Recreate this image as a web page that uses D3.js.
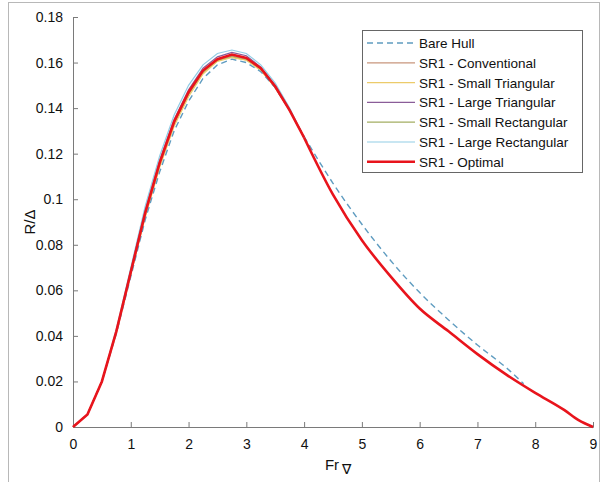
<!DOCTYPE html>
<html>
<head>
<meta charset="utf-8">
<script src="https://cdn.jsdelivr.net/npm/d3@7"></script>
<style>
  body { margin: 0; background: #fff; }
  text { font-family: "Liberation Sans", Arial, sans-serif; }
</style>
</head>
<body>
<div class="chart"></div>
<script>

// Froude numbers for the hump region (all series) and the tail
var frHump = [0, 0.25, 0.5, 0.75, 1, 1.25, 1.5, 1.75, 2, 2.25, 2.5, 2.75, 3, 3.25, 3.5, 3.75, 4];
var frTailBare = [4, 4.5, 5, 5.5, 6, 6.5, 7, 7.5, 7.8];
var frTailOpt = [4, 4.5, 5, 5.5, 6, 6.5, 7, 7.5, 8, 8.5, 8.75, 9];

var bareHull     = [0, 0.0055, 0.020, 0.041, 0.066, 0.091, 0.112, 0.130, 0.143, 0.153, 0.159, 0.1615, 0.160, 0.156, 0.149, 0.139, 0.1275];
var bareHullTail = [0.1275, 0.107, 0.089, 0.073, 0.059, 0.047, 0.036, 0.026, 0.019];
var conventional = [0, 0.0055, 0.020, 0.042, 0.067, 0.093, 0.115, 0.133, 0.146, 0.156, 0.161, 0.1628, 0.1615, 0.157, 0.149, 0.139, 0.127];
var smallTri     = [0, 0.0055, 0.020, 0.041, 0.067, 0.092, 0.114, 0.132, 0.145, 0.155, 0.1605, 0.1622, 0.161, 0.1565, 0.149, 0.139, 0.127];
var largeTri     = [0, 0.0055, 0.020, 0.042, 0.069, 0.095, 0.117, 0.135, 0.148, 0.1575, 0.1625, 0.1645, 0.163, 0.158, 0.150, 0.1395, 0.127];
var smallRect    = [0, 0.0055, 0.020, 0.042, 0.068, 0.093, 0.115, 0.133, 0.146, 0.1555, 0.1608, 0.1625, 0.1612, 0.157, 0.149, 0.139, 0.127];
var largeRect    = [0, 0.0055, 0.020, 0.043, 0.070, 0.097, 0.119, 0.137, 0.150, 0.159, 0.164, 0.1655, 0.164, 0.159, 0.151, 0.140, 0.127];
var optimal      = [0, 0.0055, 0.020, 0.042, 0.068, 0.094, 0.116, 0.134, 0.147, 0.1565, 0.1615, 0.1635, 0.162, 0.1575, 0.1495, 0.139, 0.127];
var optimalTail  = [0.127, 0.102, 0.082, 0.066, 0.052, 0.042, 0.032, 0.023, 0.015, 0.0075, 0.003, 0];

var xTicks = [0, 1, 2, 3, 4, 5, 6, 7, 8, 9];
var yTicks = [0, 0.02, 0.04, 0.06, 0.08, 0.1, 0.12, 0.14, 0.16, 0.18];

var names = ["Bare Hull", "SR1 - Conventional", "SR1 - Small Triangular", "SR1 - Large Triangular",
             "SR1 - Small Rectangular", "SR1 - Large Rectangular", "SR1 - Optimal"];
var colors = ["#5f9cc0", "#c8967c", "#eccb6a", "#8a5d98", "#a3ae62", "#92cde6", "#e8141c"];

function pts(xs, ys) {
    return xs.map(function(x, i) { return [x, ys[i]]; });
}

// hump part of every series, plus smooth tails for bare hull and optimal
var humps = [bareHull, conventional, smallTri, largeTri, smallRect, largeRect, optimal]
    .map(function(ys) { return pts(frHump, ys); });
var tails = { 0: pts(frTailBare, bareHullTail), 6: pts(frTailOpt, optimalTail) };

var W = 602, H = 482;
var margin = { left: 73, right: 9, top: 17, bottom: 55 };

var svg = d3.select(".chart").append("svg")
    .attr("width", W)
    .attr("height", H);

// Figure frame
svg.append("rect")
    .attr("x", 8.5).attr("y", 2.5)
    .attr("width", 591).attr("height", 490)
    .attr("fill", "none")
    .attr("stroke", "#b8b8b8");

var x = d3.scaleLinear().domain([0, 9]).range([margin.left, W - margin.right]);
var y = d3.scaleLinear().domain([0, 0.18]).range([H - margin.bottom, margin.top]);

// Axes with inward ticks
var gx = svg.append("g")
    .attr("transform", "translate(0," + y(0) + ")")
    .call(d3.axisBottom(x).tickValues(xTicks).tickSize(-5).tickPadding(9).tickFormat(d3.format("d")));

var gy = svg.append("g")
    .attr("transform", "translate(" + x(0) + ",0)")
    .call(d3.axisLeft(y).tickValues(yTicks).tickSize(-5).tickPadding(10).tickFormat(function(d) { return d === 0 ? "0" : d3.format("")(+d.toFixed(2)); }));

[gx, gy].forEach(function(g) {
    g.select(".domain").attr("stroke", "#7a7a7a");
    g.selectAll(".tick line").attr("stroke", "#7a7a7a");
    g.selectAll(".tick text").attr("fill", "#111").style("font-size", "14px");
});
gx.selectAll(".tick text").attr("dy", "0.9em");

// Axis titles
svg.append("text")
    .attr("transform", "translate(35," + y(0.09) + ") rotate(-90)")
    .attr("text-anchor", "middle")
    .style("font-size", "15px")
    .attr("fill", "#111")
    .text("R/Δ");

var xt = svg.append("text")
    .attr("x", 338).attr("y", 470)
    .attr("text-anchor", "middle")
    .style("font-size", "15px")
    .attr("fill", "#111");
xt.append("tspan").text("Fr");
xt.append("tspan").attr("dx", 3).attr("dy", 4).style("font-size", "14px").text("∇");

var line = d3.line()
    .x(function(d) { return x(d[0]); })
    .y(function(d) { return y(d[1]); });

var smoothLine = d3.line()
    .curve(d3.curveMonotoneX)
    .x(function(d) { return x(d[0]); })
    .y(function(d) { return y(d[1]); });

function styleLine(sel, i) {
    sel.attr("fill", "none")
        .attr("stroke", colors[i])
        .attr("stroke-width", i === 6 ? 2.6 : (i === 0 ? 1.4 : 1.2))
        .attr("stroke-dasharray", i === 0 ? "6,4" : null);
}

// Draw the thin series first, then bare hull, then optimal on top
[5, 3, 1, 4, 2, 0, 6].forEach(function(i) {
    svg.append("path")
        .datum(humps[i])
        .attr("d", line)
        .call(styleLine, i);
    if (tails[i]) {
        svg.append("path")
            .datum(tails[i])
            .attr("d", smoothLine)
            .call(styleLine, i);
    }
});

// Legend
var legend = svg.append("g").attr("transform", "translate(362,30)");
legend.append("rect")
    .attr("x", 0.5).attr("y", 0.5)
    .attr("width", 220).attr("height", 142)
    .attr("fill", "#fff")
    .attr("stroke", "#666");

names.forEach(function(n, i) {
    var ly = 13 + i * 19.8;
    legend.append("line")
        .attr("x1", 5).attr("x2", 53)
        .attr("y1", ly).attr("y2", ly)
        .call(styleLine, i);
    legend.append("text")
        .attr("x", 57).attr("y", ly + 5)
        .style("font-size", "13.5px")
        .attr("fill", "#111")
        .text(n);
});

</script>
</body>
</html>
